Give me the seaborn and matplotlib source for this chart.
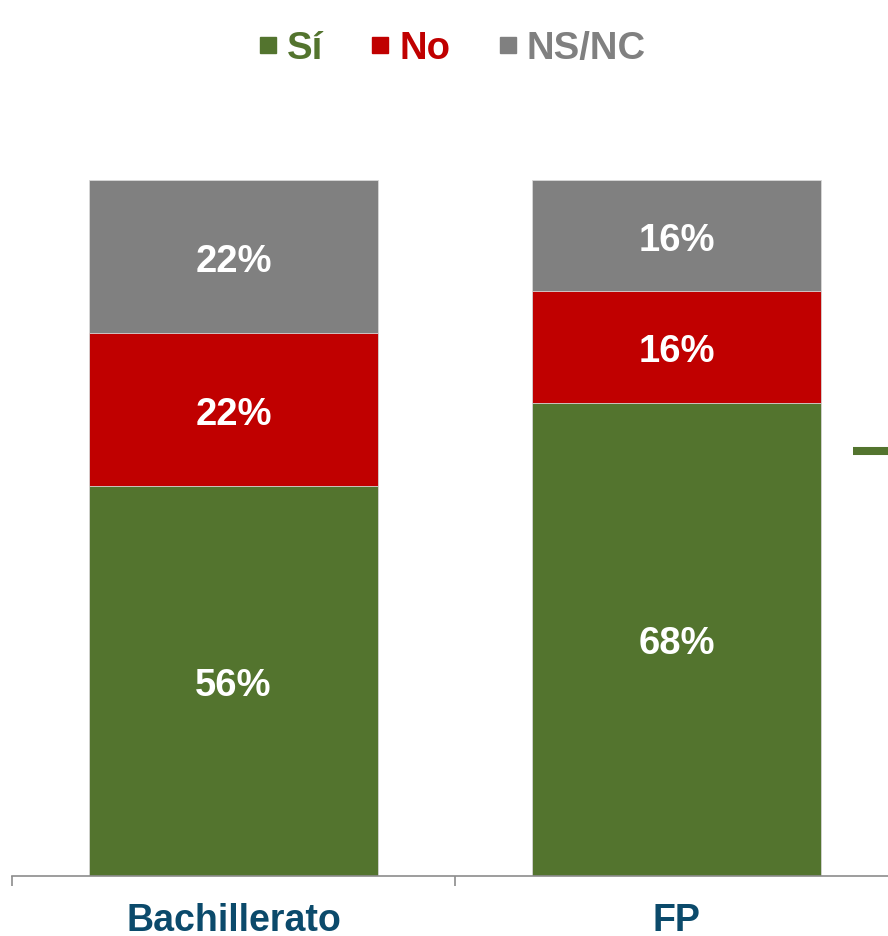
import matplotlib
matplotlib.use("Agg")
import matplotlib.pyplot as plt
from matplotlib.lines import Line2D
import seaborn as sns
import pandas as pd

sns.set_theme(style="white")
plt.rcParams["font.family"] = ["Liberation Sans", "DejaVu Sans"]

##data
categories = ["Bachillerato", "FP"]
si = [56, 68]
no = [22, 16]
nsnc = [22, 16]

green = "#53742E"
red = "#C00000"
grey = "#808080"
navy = "#0B4A6B"

df = pd.DataFrame({"cat": categories, "si": si, "no": no, "nsnc": nsnc})
df["top_no"] = df["si"] + df["no"]
df["top_ns"] = df["top_no"] + df["nsnc"]

fig = plt.figure(figsize=(8.88, 9.37), dpi=100)
ax = fig.add_axes([12 / 888, 60 / 937, 876 / 888, 696 / 937])

# stacked bars drawn back to front
for col, color in [("top_ns", grey), ("top_no", red), ("si", green)]:
    sns.barplot(data=df, x="cat", y=col, color=color, width=0.652,
                saturation=1, edgecolor="#d9d9d9", linewidth=0.6, ax=ax)

for i in range(len(df)):
    centers = [df["si"][i] / 2,
               df["si"][i] + df["no"][i] / 2,
               df["top_no"][i] + df["nsnc"][i] / 2]
    for c, v in zip(centers, [df["si"][i], df["no"][i], df["nsnc"][i]]):
        ax.text(i, c, f"{v}%", ha="center", va="center_baseline",
                color="white", fontsize=27.5, fontweight="bold")

ax.set_xlabel("")
ax.set_ylabel("")
ax.set_yticks([])
for s in ["top", "right", "left"]:
    ax.spines[s].set_visible(False)
ax.spines["bottom"].set_color("#8c8c8c")
ax.spines["bottom"].set_linewidth(1.2)

ax.set_xticks([0, 1])
ax.set_xticklabels(categories, fontsize=27, fontweight="bold", color=navy)
ax.tick_params(axis="x", which="major", length=0, pad=18.5)
ax.set_xticks([-0.5, 0.5], minor=True)
ax.tick_params(axis="x", which="minor", length=7.5, width=1.2,
               color="#8c8c8c", bottom=True)
ax.set_xlim(-0.5, 1.477)
ax.set_ylim(0, 100)

# legend
handles = [Line2D([], [], marker="s", linestyle="none", color=c,
                  markersize=11) for c in [green, red, grey]]
leg = fig.legend(handles, ["Sí", "No", "NS/NC"], loc="center",
                 bbox_to_anchor=(452 / 888, 1 - 49 / 937), ncol=3,
                 frameon=False, handlelength=0.5, handletextpad=0.25,
                 columnspacing=1.25, borderpad=0,
                 prop={"size": 27.5, "weight": "bold"})
for t, c in zip(leg.get_texts(), [green, red, grey]):
    t.set_color(c)

# small green dash cut off at the right edge
fig.add_artist(Line2D([853 / 888, 1.0], [1 - 451.5 / 937] * 2,
                      color=green, linewidth=5.8, solid_capstyle="butt",
                      transform=fig.transFigure))

fig.savefig("out.png", dpi=100)
